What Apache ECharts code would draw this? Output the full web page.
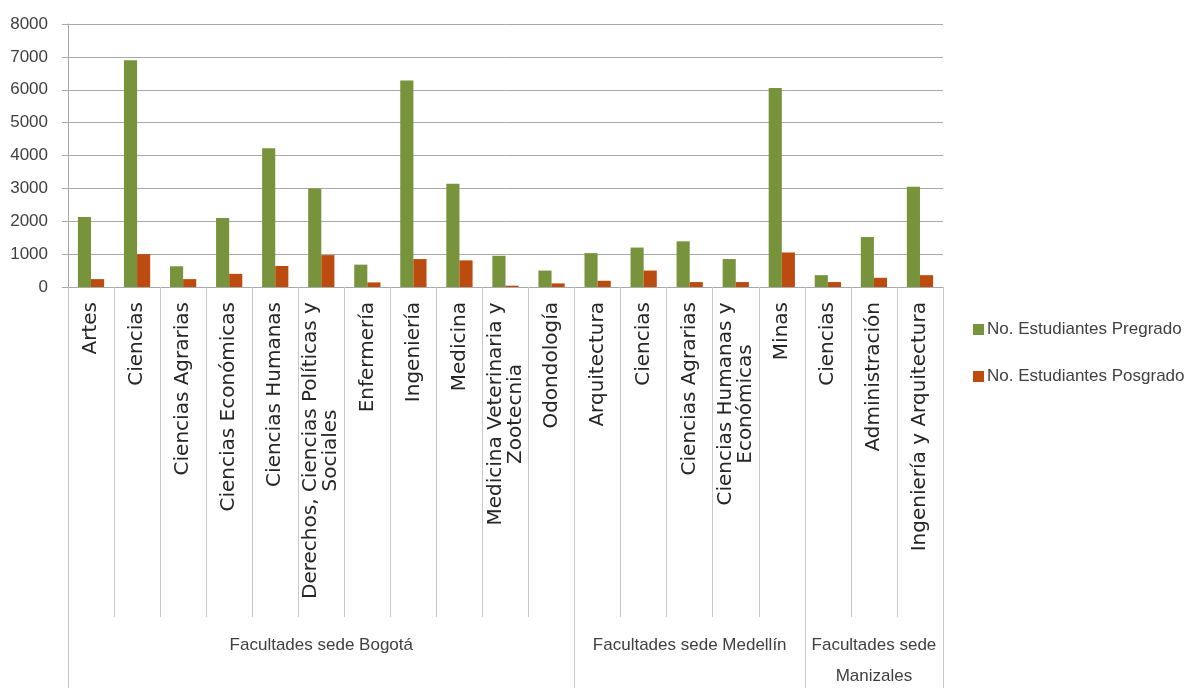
<!DOCTYPE html>
<html>
<head>
<meta charset="utf-8">
<script src="https://cdn.jsdelivr.net/npm/echarts@6/dist/echarts.min.js"></script>
<style>
html,body{margin:0;padding:0;background:#fff;}
#chart{width:1186px;height:688px;}
</style>
</head>
<body>
<div id="chart"></div>
<script>
// ---- data ----
var categories = [
  'Artes', 'Ciencias', 'Ciencias Agrarias', 'Ciencias Económicas', 'Ciencias Humanas',
  'Derechos, Ciencias Políticas y\nSociales', 'Enfermería', 'Ingeniería', 'Medicina',
  'Medicina Veterinaria y\nZootecnia', 'Odondología',
  'Arquitectura', 'Ciencias', 'Ciencias Agrarias', 'Ciencias Humanas y\nEconómicas', 'Minas',
  'Ciencias', 'Administración', 'Ingeniería y Arquitectura'
];
var groupNames = ['Facultades sede Bogotá', 'Facultades sede Medellín', 'Facultades sede\nManizales'];
var groupSizes = [11, 5, 3];
var seriesNames = ['No. Estudiantes Pregrado', 'No. Estudiantes Posgrado'];
var pregrado = [2130, 6900, 630, 2100, 4220, 3000, 680, 6280, 3140, 950, 500, 1030, 1200, 1390, 850, 6050, 360, 1520, 3050];
var posgrado = [240, 1000, 240, 400, 640, 970, 140, 850, 810, 40, 110, 190, 500, 150, 150, 1050, 150, 280, 360];
var yTicks = [0, 1000, 2000, 3000, 4000, 5000, 6000, 7000, 8000];

// ---- derived ----
var groupOfCat = [], groupStart = {}, groupMid = {};
var idx = 0;
groupSizes.forEach(function (n, g) {
  groupStart[idx] = true;
  groupMid[idx + (n - 1) / 2] = true;
  for (var k = 0; k < n; k++) groupOfCat.push(groupNames[g]);
  idx += n;
});

var catFont = 'DejaVu Sans';
var catSize = 20;
var sideFont = "'Liberation Sans', Arial, sans-serif";

// rich styles so wrapped lines are centred on each other
var ctx = document.createElement('canvas').getContext('2d');
ctx.font = catSize + 'px "' + catFont + '"';
var rich = {};
var catLabel = {};
categories.forEach(function (c, i) {
  if (c.indexOf('\n') >= 0) {
    var lines = c.split('\n');
    var w = 0;
    lines.forEach(function (l) { w = Math.max(w, ctx.measureText(l).width); });
    var key = 'w' + i;
    rich[key] = { width: Math.ceil(w), align: 'center', fontFamily: catFont, fontSize: catSize, lineHeight: 20, color: '#262626' };
    catLabel[i] = lines.map(function (l) { return '{' + key + '|' + l + '}'; }).join('\n');
  }
});

var chart = echarts.init(document.getElementById('chart'), null, { renderer: 'canvas' });
var gridColor = '#A9A9A9';
chart.setOption({
  animation: false,
  backgroundColor: '#ffffff',
  grid: { left: 68, right: 243, top: 24, bottom: 401, containLabel: false, outerBoundsMode: 'none' },
  legend: {
    orient: 'vertical',
    left: 973,
    top: 321,
    padding: 0,
    itemWidth: 11,
    itemHeight: 11,
    itemGap: 30,
    icon: 'rect',
    textStyle: { fontFamily: sideFont, fontSize: 17, color: '#404040', padding: [0, 0, 0, -2] },
    data: seriesNames
  },
  xAxis: [
    {
      type: 'category',
      data: categories,
      position: 'bottom',
      axisLine: { show: true, lineStyle: { color: gridColor, width: 1 } },
      axisTick: { show: true, interval: 0, length: 330, lineStyle: { color: '#C8C8C8', width: 1 } },
      axisLabel: {
        interval: 0,
        rotate: 90,
        margin: 15,
        fontFamily: catFont,
        fontSize: catSize,
        lineHeight: 20,
        color: '#262626',
        hideOverlap: false,
        rich: rich,
        formatter: function (v, i) { return catLabel[i] !== undefined ? catLabel[i] : v; }
      },
      splitLine: { show: false }
    },
    {
      type: 'category',
      data: groupOfCat,
      position: 'bottom',
      axisLine: { show: false },
      axisTick: {
        show: true,
        length: 401,
        interval: function (i) { return !!groupStart[i]; },
        lineStyle: { color: '#C8C8C8', width: 1 }
      },
      axisLabel: {
        interval: function (i) { return !!groupMid[i]; },
        margin: 343,
        fontFamily: sideFont,
        fontSize: 17,
        lineHeight: 31,
        color: '#404040',
        align: 'center',
        hideOverlap: false
      },
      splitLine: { show: false }
    }
  ],
  yAxis: {
    type: 'value',
    min: yTicks[0],
    max: yTicks[yTicks.length - 1],
    interval: yTicks[1] - yTicks[0],
    axisLine: { show: true, lineStyle: { color: gridColor, width: 1 } },
    axisTick: { show: true, length: 6, lineStyle: { color: gridColor } },
    axisLabel: { margin: 20, fontFamily: sideFont, fontSize: 17, color: '#404040', formatter: function (v) { return String(v); } },
    splitLine: { show: true, lineStyle: { color: gridColor, width: 1 } }
  },
  series: [
    {
      name: seriesNames[0],
      type: 'bar',
      xAxisIndex: 0,
      data: pregrado,
      barGap: '0%',
      barCategoryGap: '43%',
      itemStyle: { color: '#77933C' }
    },
    {
      name: seriesNames[1],
      type: 'bar',
      xAxisIndex: 0,
      data: posgrado,
      barGap: '0%',
      barCategoryGap: '43%',
      itemStyle: { color: '#BC4B10' }
    }
  ]
});
</script>
</body>
</html>
